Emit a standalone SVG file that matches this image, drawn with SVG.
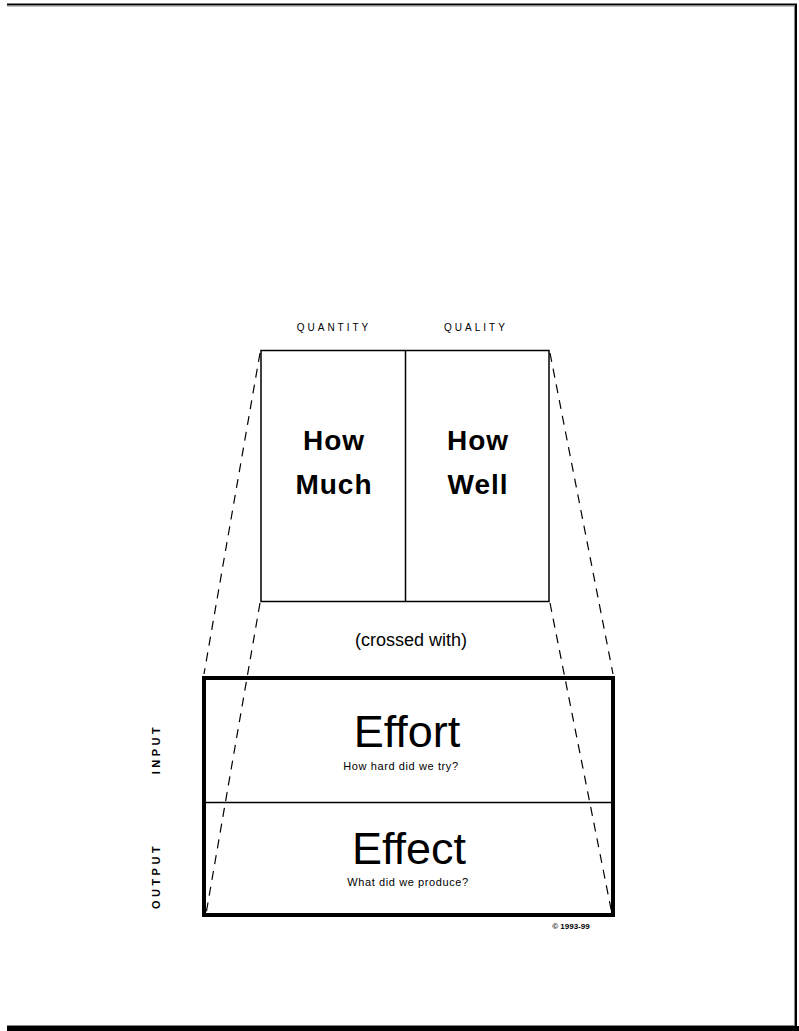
<svg xmlns="http://www.w3.org/2000/svg" width="799" height="1031" viewBox="0 0 799 1031">
<style>
text{font-family:"Liberation Sans",Arial,sans-serif;fill:#000}
.box{fill:none;stroke:#000}
.dash{fill:none;stroke:#000;stroke-width:1.2;stroke-dasharray:9 7}
.cap{font-size:10px;letter-spacing:3px;text-anchor:middle}
.big{font-size:28px;font-weight:bold;text-anchor:middle;letter-spacing:1px}
.huge{font-size:45px;text-anchor:middle}
.sub{font-size:11px;text-anchor:middle;letter-spacing:0.6px}
.side{font-size:11px;font-weight:bold;letter-spacing:3.5px;text-anchor:middle}
</style>
<rect width="799" height="1031" fill="#fff"/>
<g id="frame">
<line x1="7" y1="4.5" x2="797" y2="4.5" stroke="#000" stroke-width="2"/>
<line x1="7" y1="6" x2="795" y2="6" stroke="#888" stroke-width="1"/>
<line x1="796" y1="4" x2="796" y2="1026" stroke="#000" stroke-width="2"/>
<line x1="794.5" y1="6" x2="794.5" y2="1025" stroke="#888" stroke-width="1"/>
<line x1="7" y1="1025.5" x2="795" y2="1025.5" stroke="#888" stroke-width="1"/>
<rect x="7" y="1026" width="792" height="5" fill="#000"/>
</g>
<g id="connectors">
<line class="dash" x1="260" y1="353" x2="204" y2="674"/>
<line class="dash" x1="260" y1="603" x2="206" y2="914"/>
<line class="dash" x1="550" y1="353" x2="613" y2="674"/>
<line class="dash" x1="550" y1="603" x2="612" y2="914"/>
</g>
<g id="quantity-quality">
<rect class="box" x="261" y="350.5" width="288" height="251" stroke-width="1.5"/>
<line x1="405.5" y1="350" x2="405.5" y2="601" stroke="#000" stroke-width="1.5"/>
<text class="cap" x="334" y="331">QUANTITY</text>
<text class="cap" x="476" y="331">QUALITY</text>
<text class="big" x="334" y="450">How</text>
<text class="big" x="334" y="494">Much</text>
<text class="big" x="478" y="450">How</text>
<text class="big" x="478" y="494">Well</text>
</g>
<g id="crossed">
<text x="411" y="646" font-size="18" text-anchor="middle">(crossed with)</text>
</g>
<g id="effort-effect">
<rect class="box" x="204" y="678" width="409" height="237" stroke-width="4"/>
<line x1="204" y1="802.5" x2="613" y2="802.5" stroke="#000" stroke-width="1.5"/>
<text class="huge" x="407" y="747">Effort</text>
<text class="sub" x="401" y="770">How hard did we try?</text>
<text class="huge" x="409" y="864">Effect</text>
<text class="sub" x="408" y="886">What did we produce?</text>
</g>
<g id="side-labels">
<text class="side" transform="translate(160,749) rotate(-90)">INPUT</text>
<text class="side" transform="translate(160,876) rotate(-90)">OUTPUT</text>
</g>
<g id="copyright">
<text x="571" y="929" font-size="8" font-weight="bold" text-anchor="middle">© 1993-99</text>
</g>
</svg>
